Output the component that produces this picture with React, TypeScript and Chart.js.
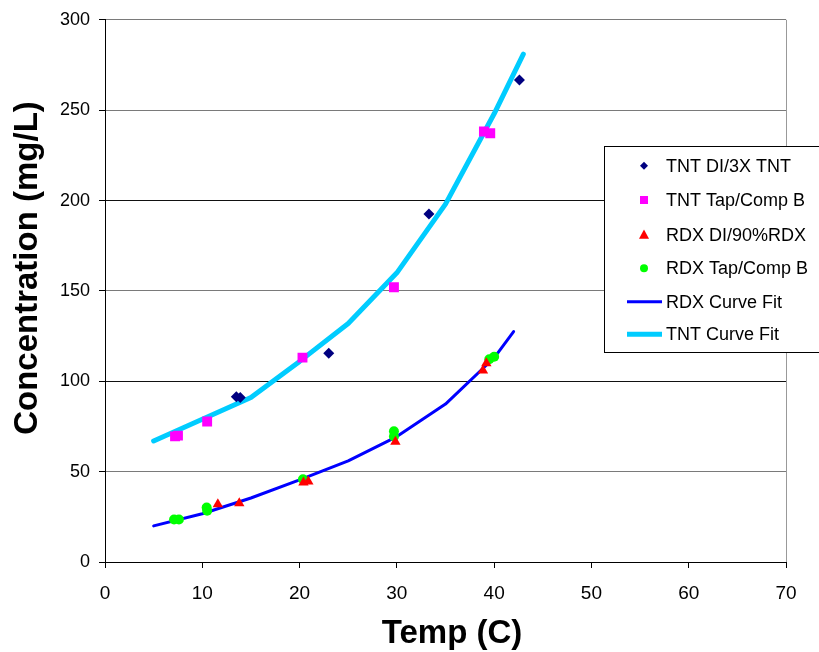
import React, { useEffect, useRef } from "react";
import { Chart, registerables } from "chart.js";

Chart.register(...registerables);

// ---- data ----
const tntDiX = [13.5, 13.9, 23.0, 33.3, 42.6];
const tntDiY = [91.5, 91.0, 115.5, 192.6, 266.7];

const tntTapX = [7.2, 7.5, 10.5, 20.3, 29.7, 38.95, 39.6];
const tntTapY = [69.5, 69.9, 77.7, 113.1, 152.0, 238.2, 237.2];

const rdxDiX = [11.6, 13.8, 20.4, 20.9, 29.85, 38.85, 39.2];
const rdxDiY = [32.0, 32.5, 44.0, 44.5, 66.6, 105.9, 110.0];

const rdxTapX = [7.1, 7.6, 10.45, 10.5, 20.35, 29.7, 29.7, 39.5, 40.0];
const rdxTapY = [23.5, 23.5, 30.2, 28.4, 45.8, 72.3, 69.4, 112.2, 113.6];

const rdxFitX = [5, 10, 15, 20, 25, 30, 35, 40, 42];
const rdxFitY = [20, 26.7, 35.4, 45.4, 56, 69.4, 87.4, 113, 127.5];

const tntFitX = [5, 10, 15, 20, 25, 30, 35, 40, 43];
const tntFitY = [67, 79, 91, 111, 132, 160, 198, 248, 281];

const seriesLabels = [
  "TNT DI/3X TNT",
  "TNT Tap/Comp B",
  "RDX DI/90%RDX",
  "RDX Tap/Comp B",
  "RDX Curve Fit",
  "TNT Curve Fit",
];

const xTitle = "Temp (C)";
const yTitle = "Concentration (mg/L)";
const xMin = 0, xMax = 70, xStep = 10;
const yMin = 0, yMax = 300, yStep = 50;

const FONT = "'Liberation Sans', Arial, Helvetica, sans-serif";

const zip = (xs: number[], ys: number[]) => xs.map((x, i) => ({ x, y: ys[i] }));

function drawMarker(ctx: CanvasRenderingContext2D, style: string, x: number, y: number, s: number) {
  ctx.beginPath();
  if (style === "rectRot") {
    ctx.moveTo(x - s, y);
    ctx.lineTo(x, y - s);
    ctx.lineTo(x + s, y);
    ctx.lineTo(x, y + s);
    ctx.closePath();
  } else if (style === "rect") {
    ctx.rect(x - s, y - s, 2 * s, 2 * s);
  } else if (style === "triangle") {
    ctx.moveTo(x, y - s * 1.1);
    ctx.lineTo(x + s, y + s * 0.75);
    ctx.lineTo(x - s, y + s * 0.75);
    ctx.closePath();
  } else {
    ctx.arc(x, y, s, 0, Math.PI * 2);
  }
  ctx.fill();
}

const customDraw = {
  id: "customDraw",
  afterDraw(chart: any) {
    const ctx: CanvasRenderingContext2D = chart.ctx;
    const area = chart.chartArea;
    ctx.save();
    // right border of plot area
    ctx.strokeStyle = "#999999";
    ctx.lineWidth = 1;
    ctx.beginPath();
    ctx.moveTo(Math.round(area.right) + 0.5, area.top);
    ctx.lineTo(Math.round(area.right) + 0.5, area.bottom);
    ctx.stroke();

    // axis titles
    ctx.fillStyle = "#000";
    ctx.font = `bold 33px ${FONT}`;
    ctx.textAlign = "center";
    ctx.textBaseline = "middle";
    ctx.fillText(xTitle, 452, 634);
    ctx.save();
    ctx.translate(28, 268);
    ctx.rotate(-Math.PI / 2);
    ctx.fillText(yTitle, 0, 0);
    ctx.restore();

    // legend
    const bx = 604.5, by = 146.5, bw = 240, bh = 206;
    ctx.fillStyle = "#fff";
    ctx.fillRect(bx, by, bw, bh);
    ctx.strokeStyle = "#000";
    ctx.lineWidth = 1;
    ctx.strokeRect(bx, by, bw, bh);
    const rows = [165.7, 200, 235, 268.3, 301.7, 334.3];
    const sizes = [4, 4, 5, 4];
    chart.data.datasets.forEach((ds: any, i: number) => {
      const y = rows[i];
      if (ds.showLine) {
        ctx.strokeStyle = ds.borderColor;
        ctx.lineWidth = ds.borderWidth;
        ctx.beginPath();
        ctx.moveTo(627, y);
        ctx.lineTo(662, y);
        ctx.stroke();
      } else {
        ctx.fillStyle = ds.backgroundColor;
        drawMarker(ctx, ds.pointStyle, 644, y, sizes[i]);
      }
      ctx.fillStyle = "#000";
      ctx.font = `18px ${FONT}`;
      ctx.textAlign = "left";
      ctx.textBaseline = "middle";
      ctx.fillText(ds.label, 666, y + 1);
    });
    ctx.restore();
  },
};

export default function App() {
  const ref = useRef<HTMLCanvasElement | null>(null);

  useEffect(() => {
    document.body.style.margin = "0";
    if (!ref.current) return;
    const scatter = (label: string, data: any, color: string, style: string, r: number) => ({
      label,
      data,
      backgroundColor: color,
      borderColor: color,
      pointStyle: style,
      pointRadius: r,
      pointBorderWidth: 0,
      showLine: false,
    });
    const line = (label: string, data: any, color: string, w: number) => ({
      label,
      data,
      backgroundColor: color,
      borderColor: color,
      borderWidth: w,
      pointRadius: 0,
      showLine: true,
      tension: 0,
      borderCapStyle: "round",
      borderJoinStyle: "round",
    });
    const chart = new Chart(ref.current, {
      type: "scatter",
      data: {
        datasets: [
          scatter(seriesLabels[0], zip(tntDiX, tntDiY), "#000080", "rectRot", 5.5),
          scatter(seriesLabels[1], zip(tntTapX, tntTapY), "#FF00FF", "rect", 7),
          scatter(seriesLabels[2], zip(rdxDiX, rdxDiY), "#FF0000", "triangle", 6),
          scatter(seriesLabels[3], zip(rdxTapX, rdxTapY), "#00FF00", "circle", 5),
          line(seriesLabels[4], zip(rdxFitX, rdxFitY), "#0000FF", 3),
          line(seriesLabels[5], zip(tntFitX, tntFitY), "#00CCFF", 5),
        ] as any,
      },
      options: {
        responsive: false,
        maintainAspectRatio: false,
        animation: false,
        layout: { padding: { top: 19, right: 33, left: 0, bottom: 0 } },
        plugins: {
          legend: { display: false },
          tooltip: { enabled: false },
          title: { display: false },
        },
        scales: {
          x: {
            type: "linear",
            min: xMin,
            max: xMax,
            afterFit: (s: any) => { s.height = 90; },
            ticks: {
              stepSize: xStep,
              color: "#000",
              padding: 14,
              font: { family: FONT, size: 19 },
              maxRotation: 0,
            },
            grid: {
              drawOnChartArea: false,
              drawTicks: true,
              tickLength: 6,
              tickColor: "#000",
              color: "#000",
            },
            border: { display: true, color: "#000", width: 1 },
            title: { display: false, text: xTitle },
          },
          y: {
            type: "linear",
            min: yMin,
            max: yMax,
            afterFit: (s: any) => { s.width = 105; },
            ticks: {
              stepSize: yStep,
              color: "#000",
              padding: 9,
              font: { family: FONT, size: 18 },
            },
            grid: {
              drawTicks: true,
              tickLength: 6,
              tickColor: "#000",
              color: (c: any) => {
                const v = c.tick ? c.tick.value : 0;
                return v === 100 || v === 200 || v === 0 ? "#111111" : "#7a7a7a";
              },
              lineWidth: 1,
            },
            border: { display: true, color: "#000", width: 1 },
            title: { display: false, text: yTitle },
          },
        },
      } as any,
      plugins: [customDraw],
    });
    return () => chart.destroy();
  }, []);

  return (
    <div style={{ width: 819, height: 652 }}>
      <canvas ref={ref} width={819} height={652} style={{ display: "block" }} />
    </div>
  );
}
